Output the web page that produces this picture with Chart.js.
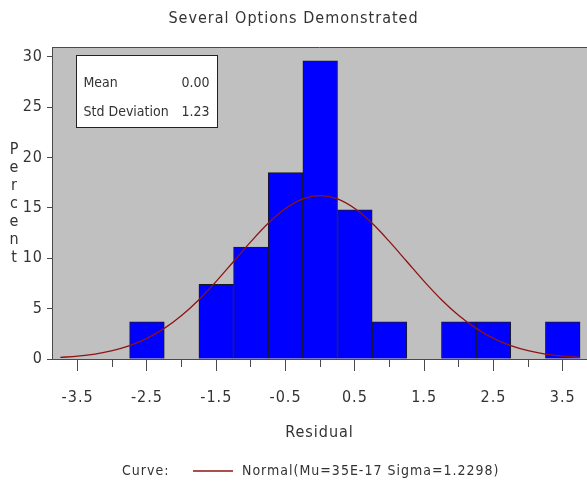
<!DOCTYPE html>
<html>
<head>
<meta charset="utf-8">
<script src="https://cdn.jsdelivr.net/npm/chart.js@4/dist/chart.umd.min.js"></script>
<style>
  html, body { margin: 0; padding: 0; background: #fff; }
  #wrap { width: 587px; height: 490px; }
</style>
</head>
<body>
<div id="wrap"><canvas id="c" width="587" height="490"></canvas></div>
<script>
// Histogram of residuals: bin midpoints and percent of observations
const binMidpoints = [-3.5, -3, -2.5, -2, -1.5, -1, -0.5, 0, 0.5, 1, 1.5, 2, 2.5, 3, 3.5];
const binPercents  = [0, 0, 3.7, 0, 7.4, 11.1, 18.5, 29.6, 14.8, 3.7, 0, 3.7, 3.7, 0, 3.7];

// Fitted normal curve (percent scale)
const curveX = [-3.75, -3.5, -3.25, -3, -2.75, -2.5, -2.25, -2, -1.75, -1.5, -1.25, -1, -0.75, -0.5, -0.25, 0,
                0.25, 0.5, 0.75, 1, 1.25, 1.5, 1.75, 2, 2.25, 2.5, 2.75, 3, 3.25, 3.5, 3.75];
const curveY = [0.16, 0.28, 0.49, 0.83, 1.33, 2.05, 3.04, 4.32, 5.89, 7.71, 9.68, 11.65, 13.47, 14.93, 15.89, 16.22,
                15.89, 14.93, 13.47, 11.65, 9.68, 7.71, 5.89, 4.32, 3.04, 2.05, 1.33, 0.83, 0.49, 0.28, 0.16];

// Axis ticks
const xMajorTicks = [-3.5, -2.5, -1.5, -0.5, 0.5, 1.5, 2.5, 3.5];
const xAllTicks   = [-3.5, -3, -2.5, -2, -1.5, -1, -0.5, 0, 0.5, 1, 1.5, 2, 2.5, 3, 3.5];
const yTicks      = [0, 5, 10, 15, 20, 25, 30];

// Summary statistics and curve legend
const statLabels = ['Mean', 'Std Deviation'];
const statValues = ['0.00', '1.23'];
const curveLabel = 'Normal(Mu=35E-17 Sigma=1.2298)';

const FONT = '"Liberation Sans Narrow", "DejaVu Sans Condensed", "Liberation Sans", sans-serif';
const SPACING = '1px';
const INK = '#333333';
const AXIS = '#4a4a4a';

const spacingPlugin = {
  id: 'spacing',
  beforeUpdate(chart) { chart.ctx.letterSpacing = SPACING; },
  beforeLayout(chart) { chart.ctx.letterSpacing = SPACING; },
  beforeDraw(chart) { chart.ctx.letterSpacing = SPACING; }
};

const framePlugin = {
  id: 'frame',
  beforeDraw(chart) {
    const { ctx, chartArea: a } = chart;
    ctx.save();
    ctx.fillStyle = '#c0c0c0';
    ctx.fillRect(a.left, a.top, a.right - a.left, a.bottom - a.top);
    ctx.restore();
  },
  afterDraw(chart) {
    const { ctx, chartArea: a } = chart;
    ctx.save();
    // top frame line
    ctx.strokeStyle = AXIS;
    ctx.lineWidth = 1;
    ctx.beginPath();
    ctx.moveTo(a.left, Math.round(a.top) + 0.5);
    ctx.lineTo(a.right, Math.round(a.top) + 0.5);
    ctx.stroke();

    // statistics inset
    const bx = Math.round(a.left + 24) + 0.5, by = Math.round(a.top + 8) + 0.5;
    const bw = 141, bh = 72;
    ctx.fillStyle = '#ffffff';
    ctx.fillRect(bx, by, bw, bh);
    ctx.strokeStyle = '#222';
    ctx.strokeRect(bx, by, bw, bh);
    ctx.letterSpacing = '0px';
    ctx.fillStyle = INK;
    ctx.font = '14px ' + FONT;
    ctx.textBaseline = 'middle';
    statLabels.forEach((lab, i) => {
      const yy = by + 28 + i * 29;
      ctx.textAlign = 'left';
      ctx.fillText(lab, bx + 7, yy);
      ctx.textAlign = 'right';
      ctx.fillText(statValues[i], bx + bw - 8, yy);
    });

    // vertical axis label, letters stacked
    ctx.font = '16px ' + FONT;
    ctx.textAlign = 'center';
    const word = 'Percent';
    for (let i = 0; i < word.length; i++) {
      ctx.fillText(word[i], 14, 150 + i * 17.9);
    }

    // curve legend
    ctx.letterSpacing = SPACING;
    ctx.font = '14px ' + FONT;
    const ly = 471;
    ctx.textAlign = 'left';
    ctx.fillText('Curve:', 122, ly);
    ctx.strokeStyle = '#8e1414';
    ctx.lineWidth = 1.3;
    ctx.beginPath();
    ctx.moveTo(193, ly);
    ctx.lineTo(233, ly);
    ctx.stroke();
    ctx.fillText(curveLabel, 242, ly);
    ctx.restore();
  }
};

new Chart(document.getElementById('c'), {
  type: 'bar',
  data: {
    datasets: [
      {
        type: 'line',
        label: curveLabel,
        data: curveX.map((x, i) => ({ x, y: curveY[i] })),
        borderColor: '#8e1414',
        borderWidth: 1.3,
        pointRadius: 0,
        cubicInterpolationMode: 'monotone',
        order: 0
      },
      {
        type: 'bar',
        label: 'Percent',
        data: binMidpoints.map((x, i) => ({ x, y: binPercents[i] })),
        backgroundColor: ctx => (ctx.raw && ctx.raw.y > 0 ? '#0000ff' : 'rgba(0,0,0,0)'),
        borderColor: '#1a1a1a',
        borderWidth: ctx => (ctx.raw && ctx.raw.y > 0 ? 1 : 0),
        barPercentage: 1,
        categoryPercentage: 1,
        order: 1
      }
    ]
  },
  options: {
    responsive: false,
    animation: false,
    layout: { padding: { left: 0, right: 0, top: 0, bottom: 40 } },
    plugins: {
      legend: { display: false },
      tooltip: { enabled: false },
      title: {
        display: true,
        text: 'Several Options Demonstrated',
        color: INK,
        font: { family: FONT, size: 16, weight: 'normal' },
        padding: { top: 9, bottom: 19 }
      }
    },
    scales: {
      x: {
        type: 'linear',
        min: -3.87,
        max: 3.85,
        offset: false,
        afterBuildTicks: s => { s.ticks = xAllTicks.map(v => ({ value: v })); },
        afterFit: s => { s.height = 91; s.paddingLeft = 0; s.paddingRight = 0; },
        ticks: {
          autoSkip: false,
          maxRotation: 0,
          padding: 17,
          color: INK,
          font: { family: FONT, size: 16 },
          callback: v => (xMajorTicks.includes(v) ? v.toFixed(1) : '')
        },
        grid: {
          offset: false,
          drawOnChartArea: false,
          drawTicks: true,
          tickLength: 12,
          tickColor: AXIS,
          tickWidth: 1,
          tickBorderDash: ctx => (ctx.tick && xMajorTicks.includes(ctx.tick.value) ? [] : [7, 30])
        },
        border: { display: true, color: AXIS, width: 1 },
        title: {
          display: true,
          text: 'Residual',
          color: INK,
          font: { family: FONT, size: 16 },
          padding: { top: 0, bottom: 8 }
        }
      },
      y: {
        type: 'linear',
        min: 0,
        max: 30.95,
        afterBuildTicks: s => { s.ticks = yTicks.map(v => ({ value: v })); },
        afterFit: s => { s.width = 52; },
        ticks: {
          padding: 4,
          color: INK,
          font: { family: FONT, size: 16 }
        },
        grid: {
          drawOnChartArea: false,
          drawTicks: true,
          tickLength: 5,
          tickColor: AXIS
        },
        border: { display: true, color: AXIS, width: 1 }
      }
    }
  },
  plugins: [spacingPlugin, framePlugin]
});
</script>
</body>
</html>
